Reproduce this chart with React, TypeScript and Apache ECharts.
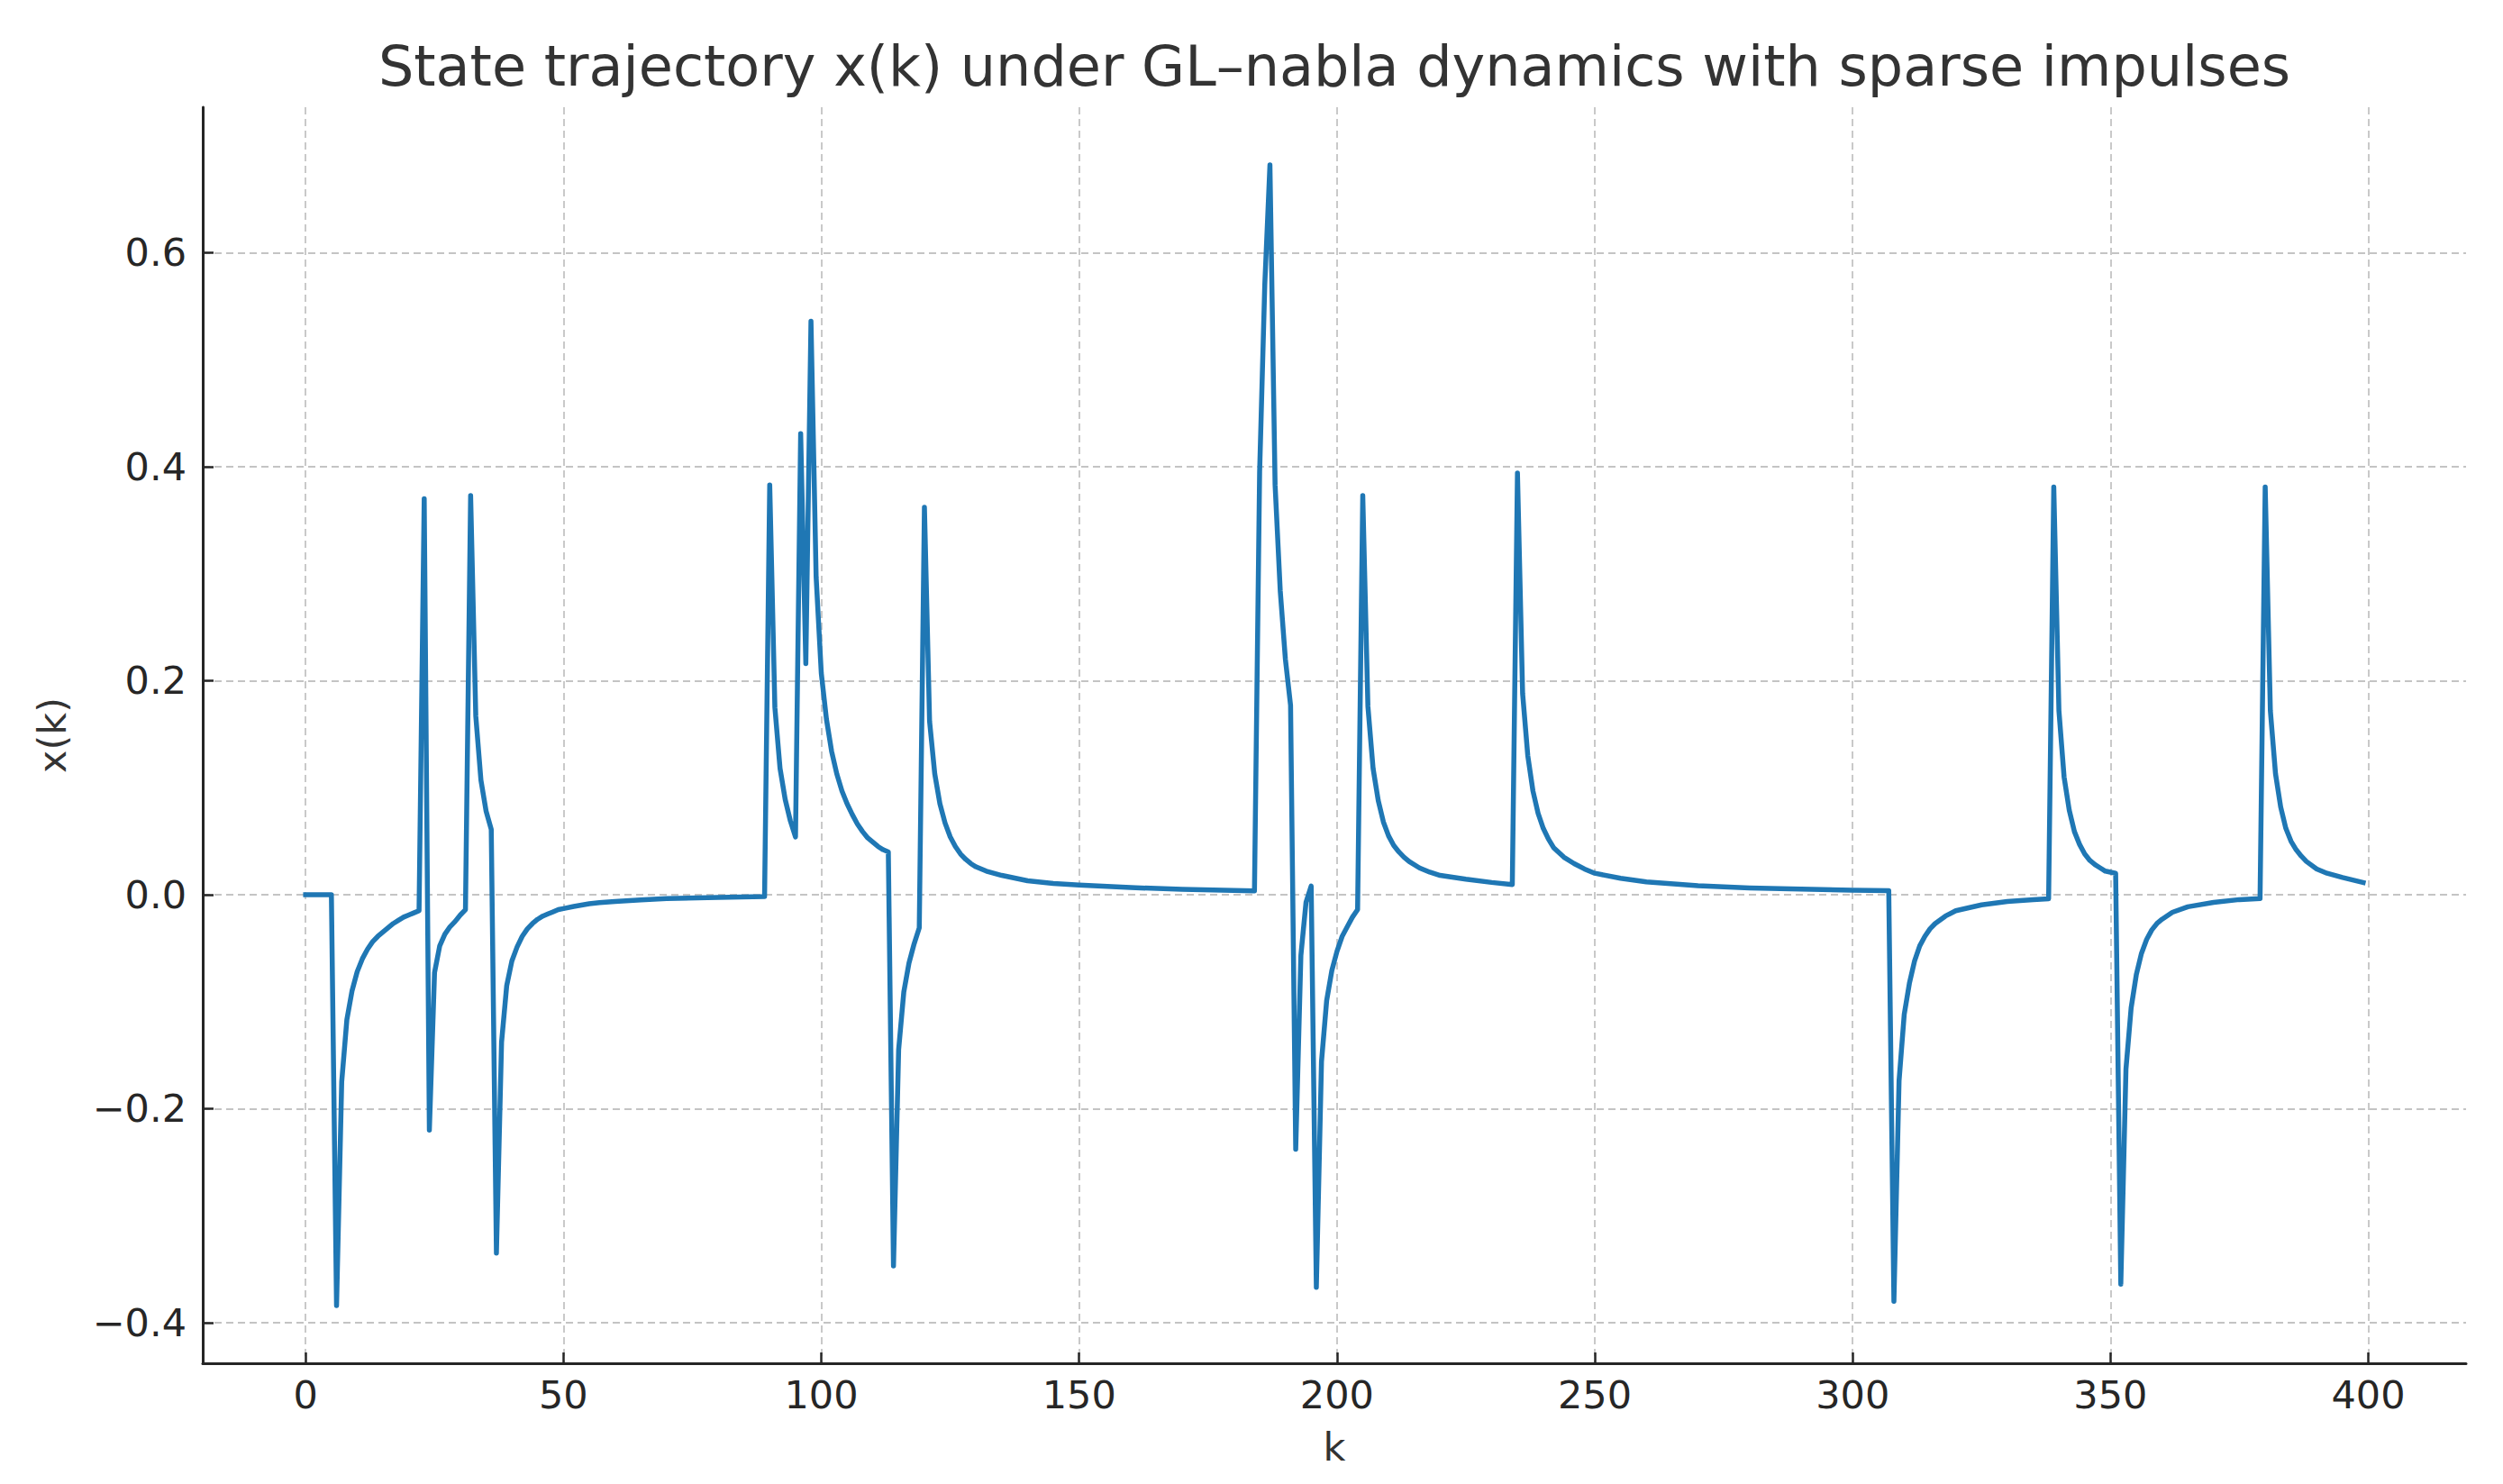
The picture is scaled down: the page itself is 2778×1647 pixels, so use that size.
import React, { useEffect, useRef } from "react";
import * as echarts from "echarts";

const TITLE = "State trajectory x(k) under GL–nabla dynamics with sparse impulses";
const X_NAME = "k";
const Y_NAME = "x(k)";

const xTicks = [0, 50, 100, 150, 200, 250, 300, 350, 400];
const yTicks = [-0.4, -0.2, 0.0, 0.2, 0.4, 0.6];

const kSteps = [
  0, 5, 6, 7, 8, 9, 10, 11, 12, 13, 14, 15, 16, 17, 18, 19, 20, 21, 22,
  23, 24, 25, 26, 27, 28, 29, 30, 31,
  32, 33, 34, 35, 36,
  37, 38, 39, 40, 41, 42, 43, 44, 45, 46, 47, 48, 49, 50, 52, 55, 57, 60, 65, 70, 80, 89,
  90, 91, 92, 93, 94, 95,
  96, 97, 98, 99, 100, 101, 102, 103, 104, 105, 106, 107, 108, 109, 110, 111, 112, 113,
  114, 115, 116, 117, 118, 119,
  120, 121, 122, 123, 124, 125, 126, 127, 128, 129, 130, 132, 135, 140, 145, 150, 160, 170, 184,
  185, 186, 187, 188, 189, 190, 191,
  192, 193, 194, 195,
  196, 197, 198, 199, 200, 201, 202, 203, 204,
  205, 206, 207, 208, 209, 210, 211, 212, 213, 214, 216, 218, 220, 225, 230, 234,
  235, 236, 237, 238, 239, 240, 241, 242, 244, 246, 248, 250, 255, 260, 270, 280, 290, 300, 307,
  308, 309, 310, 311, 312, 313, 314, 315, 316, 318, 320, 325, 330, 335, 338,
  339, 340, 341, 342, 343, 344, 345, 346, 347, 348, 349, 350, 351,
  352, 353, 354, 355, 356, 357, 358, 359, 360, 362, 365, 370, 375, 379,
  380, 381, 382, 383, 384, 385, 386, 387, 388, 390, 392, 395, 399,
];

const xValues = [
  0, 0, -0.384, -0.175, -0.117, -0.09, -0.072, -0.06, -0.051, -0.044, -0.039, -0.035, -0.031, -0.027, -0.024, -0.021, -0.019, -0.017, -0.015,
  0.37, -0.22, -0.073, -0.048, -0.037, -0.03, -0.025, -0.019, -0.014,
  0.373, 0.167, 0.107, 0.078, 0.061,
  -0.335, -0.138, -0.085, -0.062, -0.049, -0.039, -0.032, -0.027, -0.023, -0.02, -0.018, -0.016, -0.014, -0.013, -0.011, -0.0085, -0.0075, -0.0063, -0.005, -0.0037, -0.0025, -0.0018,
  0.383, 0.175, 0.118, 0.089, 0.069, 0.054,
  0.431, 0.216, 0.536, 0.297, 0.207, 0.164, 0.134, 0.113, 0.097, 0.085, 0.075, 0.066, 0.059, 0.053, 0.049, 0.045, 0.042, 0.04,
  -0.347, -0.145, -0.091, -0.064, -0.046, -0.031,
  0.362, 0.162, 0.113, 0.085, 0.067, 0.054, 0.045, 0.038, 0.033, 0.029, 0.026, 0.022, 0.018, 0.013, 0.0105, 0.009, 0.0066, 0.005, 0.0035,
  0.395, 0.57, 0.682, 0.383, 0.284, 0.22, 0.177,
  -0.238, -0.057, -0.007, 0.008,
  -0.367, -0.156, -0.099, -0.071, -0.053, -0.039, -0.03, -0.021, -0.014,
  0.373, 0.176, 0.118, 0.088, 0.068, 0.055, 0.046, 0.04, 0.035, 0.031, 0.025, 0.021, 0.018, 0.0144, 0.0114, 0.0095,
  0.394, 0.188, 0.13, 0.097, 0.076, 0.062, 0.052, 0.044, 0.035, 0.029, 0.024, 0.02, 0.0153, 0.012, 0.0084, 0.0063, 0.0051, 0.0042, 0.0038,
  -0.38, -0.174, -0.112, -0.083, -0.062, -0.048, -0.039, -0.032, -0.027, -0.02, -0.015, -0.0095, -0.0063, -0.0047, -0.0038,
  0.381, 0.172, 0.11, 0.079, 0.059, 0.047, 0.038, 0.032, 0.028, 0.025, 0.022, 0.021, 0.02,
  -0.364, -0.163, -0.106, -0.075, -0.055, -0.042, -0.033, -0.027, -0.023, -0.0165, -0.0113, -0.0072, -0.0046, -0.0036,
  0.381, 0.172, 0.113, 0.082, 0.062, 0.05, 0.042, 0.036, 0.031, 0.024, 0.02, 0.016, 0.0113,
];

const FONT = "DejaVu Sans";
const W = 2778;
const H = 1647;

export default function App() {
  const ref = useRef<HTMLDivElement>(null);

  useEffect(() => {
    if (!ref.current) return;
    const chart = echarts.init(ref.current, null, { renderer: "svg" });

    const gridLeft = 225;
    const gridRight = 41;
    const gridTop = 119;
    const gridBottom = 134;

    const axisColor = "#262626";
    const splitStyle = { color: "#c4c4c4", width: 1.8, type: [8, 5] as any };

    chart.setOption({
      animation: false,
      backgroundColor: "#ffffff",
      grid: { left: gridLeft, right: gridRight, top: gridTop, bottom: gridBottom },
      xAxis: {
        type: "value",
        min: -19.95,
        max: 418.95,
        axisLine: { show: true, onZero: false, lineStyle: { color: axisColor, width: 3 } },
        axisTick: {
          show: true,
          inside: true,
          length: 12,
          customValues: xTicks,
          lineStyle: { color: axisColor, width: 2.5 },
        },
        axisLabel: {
          customValues: xTicks,
          fontSize: 43,
          fontFamily: FONT,
          color: axisColor,
          margin: 13,
          formatter: (v: number) => String(v),
        },
        splitLine: { show: true, lineStyle: splitStyle },
      },
      yAxis: {
        type: "value",
        min: -0.438,
        max: 0.736,
        axisLine: { show: true, onZero: false, lineStyle: { color: axisColor, width: 3 } },
        axisTick: {
          show: true,
          inside: true,
          length: 12,
          customValues: yTicks,
          lineStyle: { color: axisColor, width: 2.5 },
        },
        axisLabel: {
          customValues: yTicks,
          fontSize: 43,
          fontFamily: FONT,
          color: axisColor,
          margin: 18,
          formatter: (v: number) => (v < -1e-9 ? "\u2212" : "") + Math.abs(v).toFixed(1),
        },
        splitLine: { show: true, lineStyle: splitStyle },
      },
      graphic: [
        {
          type: "text",
          x: (gridLeft + (W - gridRight)) / 2,
          y: 73,
          style: {
            text: TITLE,
            fontSize: 62,
            fontFamily: FONT,
            fill: "#333333",
            align: "center",
            verticalAlign: "middle",
          },
        },
        {
          type: "text",
          x: (gridLeft + (W - gridRight)) / 2,
          y: 1606,
          style: {
            text: X_NAME,
            fontSize: 43,
            fontFamily: FONT,
            fill: "#333333",
            align: "center",
            verticalAlign: "middle",
          },
        },
        {
          type: "text",
          x: 58,
          y: (gridTop + (H - gridBottom)) / 2,
          rotation: Math.PI / 2,
          style: {
            text: Y_NAME,
            fontSize: 43,
            fontFamily: FONT,
            fill: "#333333",
            align: "center",
            verticalAlign: "middle",
          },
        },
      ],
      series: [
        {
          type: "line",
          data: kSteps.map((k, i) => [k, xValues[i]]),
          showSymbol: false,
          symbol: "none",
          smooth: false,
          lineStyle: { color: "#1f77b4", width: 5.5, join: "round", cap: "square" },
        },
      ],
    });

    return () => chart.dispose();
  }, []);

  return (
    <div
      ref={ref}
      style={{ position: "fixed", left: 0, top: 0, width: W, height: H, background: "#fff" }}
    />
  );
}
